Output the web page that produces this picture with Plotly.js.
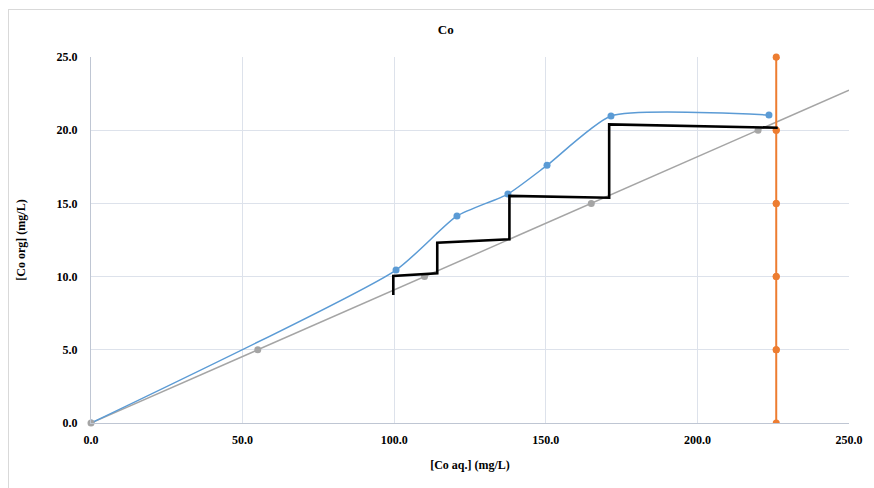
<!DOCTYPE html>
<html>
<head>
<meta charset="utf-8">
<script src="https://cdn.plot.ly/plotly-3.0.1.min.js"></script>
<style>
  html, body { margin:0; padding:0; background:#ffffff; overflow:hidden; }
  #frame { position:absolute; left:8px; top:9px; width:900px; height:520px; border:1px solid #d9d9d9; }
  #chart { position:absolute; left:0; top:0; width:874px; height:488px; }
</style>
</head>
<body>
<div id="frame"></div>
<div id="chart"></div>
<script>
// Equilibrium (blue, smoothed)
const eqX = [0, 100.6, 120.7, 137.5, 150.4, 171.5, 223.6];
const eqY = [0, 10.45, 14.14, 15.64, 17.6, 20.97, 21.04];
// Operating line (gray)
const opX = [0, 55, 110, 165, 220];
const opY = [0, 5, 10, 15, 20];
const opLineX = [0, 250];
const opLineY = [0, 22.73];
// Feed vertical (orange)
const feedX = [226, 226, 226, 226, 226, 226];
const feedY = [0, 5, 10, 15, 20, 25];
// McCabe-Thiele stages (black)
const stX = [99.7, 99.7, 114.2, 114.2, 138.0, 138.0, 170.9, 170.9, 226.5];
const stY = [8.74, 10.05, 10.23, 12.32, 12.55, 15.51, 15.39, 20.40, 20.17];
// Ticks
const xTicks = [0, 50, 100, 150, 200, 250];
const yTicks = [0, 5, 10, 15, 20, 25];

const fontFam = 'Liberation Serif, Times New Roman, serif';

const traces = [
  {x: opLineX, y: opLineY, mode: 'lines', line: {color: '#a5a5a5', width: 1.5}, hoverinfo: 'skip'},
  {x: eqX, y: eqY, mode: 'lines+markers', line: {color: '#5b9bd5', width: 1.5, shape: 'spline', smoothing: 0.55}, marker: {color: '#5b9bd5', size: 7}},
  {x: opX, y: opY, mode: 'markers', cliponaxis: false, marker: {color: '#a5a5a5', size: 7}},
  {x: feedX, y: feedY, mode: 'lines+markers', line: {color: '#ed7d31', width: 2}, marker: {color: '#ed7d31', size: 7}},
  {x: feedX.slice(1), y: feedY.slice(1), mode: 'markers', cliponaxis: false, marker: {color: '#ed7d31', size: 7}},
  {x: stX, y: stY, mode: 'lines', line: {color: '#000000', width: 2.6}}
];

const tickFont = {family: fontFam, size: 12, color: '#000000', weight: 'bold'};
const axisFont = {family: fontFam, size: 12, color: '#000000', weight: 'bold'};

const layout = {
  width: 874, height: 488,
  margin: {l: 91, r: 25, t: 57, b: 65},
  paper_bgcolor: 'rgba(0,0,0,0)',
  plot_bgcolor: 'rgba(0,0,0,0)',
  showlegend: false,
  title: {text: 'Co', font: {family: fontFam, size: 13, color: '#000000', weight: 'bold'}, x: 0.51, xanchor: 'center', y: 0.94, yanchor: 'middle'},
  xaxis: {
    range: [0, 250], tickvals: xTicks, tickformat: '.1f',
    showgrid: true, gridcolor: '#dde2eb', gridwidth: 1,
    zeroline: false, showline: true, linecolor: '#bfc6d3', linewidth: 1,
    ticks: '', ticklabelstandoff: 6, tickfont: tickFont,
    title: {text: '[Co aq.] (mg/L)', font: axisFont, standoff: 14}
  },
  yaxis: {
    range: [0, 25], tickvals: yTicks, tickformat: '.1f',
    showgrid: true, gridcolor: '#dde2eb', gridwidth: 1,
    zeroline: false, showline: true, linecolor: '#bfc6d3', linewidth: 1,
    ticks: '', ticklabelstandoff: 10, tickfont: tickFont,
    title: {text: '[Co org] (mg/L)', font: axisFont, standoff: 28}
  }
};

Plotly.newPlot('chart', traces, layout, {displayModeBar: false, staticPlot: true});
</script>
</body>
</html>
